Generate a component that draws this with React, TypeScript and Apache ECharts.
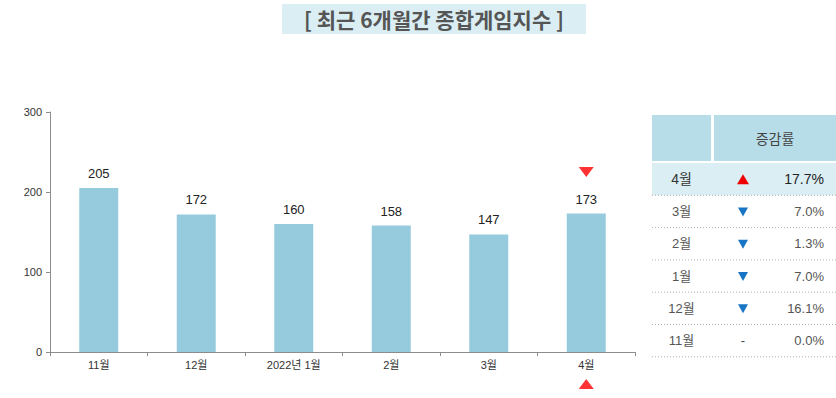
import React, { useEffect, useRef } from "react";
import * as echarts from "echarts";

const categories = ["11월", "12월", "2022년 1월", "2월", "3월", "4월"];
const indexValues = [205, 172, 160, 158, 147, 173];
const yTicks = { min: 0, max: 300, interval: 100 };
const markerDownValue = [[5, 225]];
const markerUpValue = [[5, -40]];

const tableHeader = "증감률";
const tableMonths = ["4월", "3월", "2월", "1월", "12월", "11월"];
const tableRates = ["17.7%", "7.0%", "1.3%", "7.0%", "16.1%", "0.0%"];
const tableDirections = ["up", "down", "down", "down", "down", "none"];

const titleText = "[ 최근 6개월간 종합게임지수 ]";

const FONT = "'Liberation Sans', 'Noto Sans CJK KR', sans-serif";
const KFONT = "'Noto Sans CJK KR', 'Liberation Sans', sans-serif";

export default function App() {
  const ref = useRef<HTMLDivElement>(null);
  useEffect(() => {
    if (!ref.current) return;
    const chart = echarts.init(ref.current, null, { renderer: "svg" });

    const tx = 652;
    const tw = 184;
    const c1w = 59;
    const headerTop = 115;
    const headerH = 46;
    const rowTop = 163;
    const rowH = 32.3;

    const graphics: any[] = [
      {
        type: "rect",
        shape: { x: 282, y: 4, width: 304, height: 30 },
        style: { fill: "#daeef3" },
      },
      {
        type: "text",
        x: 434,
        y: 19,
        style: {
          text: titleText,
          font: `bold 21px ${KFONT}`,
          fill: "#555",
          align: "center",
          verticalAlign: "middle",
        },
      },
      {
        type: "rect",
        shape: { x: tx, y: headerTop, width: c1w, height: headerH },
        style: { fill: "#b7dde8" },
      },
      {
        type: "rect",
        shape: { x: tx + c1w + 3, y: headerTop, width: tw - c1w - 3, height: headerH },
        style: { fill: "#b7dde8" },
      },
      {
        type: "text",
        x: tx + c1w + 3 + (tw - c1w - 3) / 2,
        y: headerTop + headerH / 2,
        style: {
          text: tableHeader,
          font: `14px ${KFONT}`,
          fill: "#444",
          align: "center",
          verticalAlign: "middle",
        },
      },
    ];

    tableMonths.forEach((m, i) => {
      const y0 = rowTop + i * rowH;
      const cy = y0 + rowH / 2;
      if (i === 0) {
        graphics.push({
          type: "rect",
          shape: { x: tx, y: y0, width: tw, height: rowH },
          style: { fill: "#dbeef4" },
        });
      }
      graphics.push({
        type: "text",
        x: tx + c1w / 2,
        y: cy,
        style: {
          text: m,
          font: i === 0 ? `14px ${FONT}` : `13px ${FONT}`,
          fill: i === 0 ? "#333" : "#555",
          align: "center",
          verticalAlign: "middle",
        },
      });
      graphics.push({
        type: "text",
        x: tx + tw - 12,
        y: cy,
        style: {
          text: tableRates[i],
          font: i === 0 ? `14px ${FONT}` : `13px ${FONT}`,
          fill: i === 0 ? "#222" : "#555",
          align: "right",
          verticalAlign: "middle",
        },
      });
      const ax = 743;
      const d = tableDirections[i];
      if (d === "up") {
        graphics.push({
          type: "polygon",
          shape: { points: [[ax - 6, cy + 5], [ax + 6, cy + 5], [ax, cy - 5]] },
          style: { fill: "#ee0000" },
        });
      } else if (d === "down") {
        graphics.push({
          type: "polygon",
          shape: { points: [[ax - 5, cy - 4], [ax + 5, cy - 4], [ax, cy + 5]] },
          style: { fill: "#1874c4" },
        });
      } else {
        graphics.push({
          type: "text",
          x: ax,
          y: cy,
          style: { text: "-", font: `13px ${FONT}`, fill: "#444", align: "center", verticalAlign: "middle" },
        });
      }
      graphics.push({
        type: "line",
        shape: { x1: tx, y1: y0 + rowH, x2: tx + tw, y2: y0 + rowH },
        style: { stroke: "#b0b0b0", lineWidth: 1, lineDash: [1, 2] },
      });
    });

    chart.setOption({
      animation: false,
      grid: { left: 50, right: 201, top: 112, bottom: 46, containLabel: false },
      xAxis: {
        type: "category",
        data: categories,
        axisLine: { lineStyle: { color: "#8c8c8c" } },
        axisTick: { show: true, length: 4, lineStyle: { color: "#8c8c8c" } },
        axisLabel: { color: "#333", fontSize: 11, fontFamily: FONT, margin: 7 },
      },
      yAxis: {
        type: "value",
        min: yTicks.min,
        max: yTicks.max,
        interval: yTicks.interval,
        splitLine: { show: false },
        axisLine: { show: true, lineStyle: { color: "#8c8c8c" } },
        axisTick: { show: true, length: 4, lineStyle: { color: "#8c8c8c" } },
        axisLabel: { color: "#333", fontSize: 11, fontFamily: FONT, margin: 8 },
      },
      series: [
        {
          type: "bar",
          data: indexValues,
          barWidth: 39,
          itemStyle: { color: "#96cbdd" },
          label: {
            show: true,
            position: "top",
            distance: 8,
            color: "#222",
            fontSize: 13,
            fontFamily: FONT,
          },
        },
        {
          type: "scatter",
          data: markerDownValue,
          symbol: "triangle",
          symbolRotate: 180,
          symbolSize: [15, 10],
          clip: false,
          itemStyle: { color: "#ff0000" },
        },
        {
          type: "scatter",
          data: markerUpValue,
          symbol: "triangle",
          symbolSize: [15, 10],
          clip: false,
          itemStyle: { color: "#ff0000" },
        },
      ],
      graphic: graphics,
    });
    return () => chart.dispose();
  }, []);
  return (
    <div
      ref={ref}
      style={{ position: "fixed", left: 0, top: 0, width: 836, height: 398, background: "#fff" }}
    />
  );
}
